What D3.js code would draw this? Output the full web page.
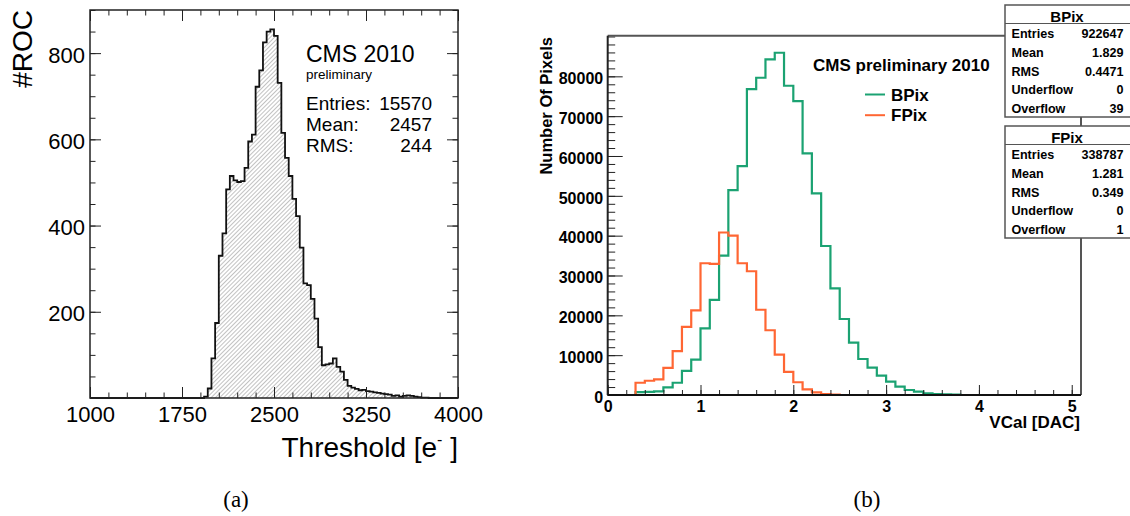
<!DOCTYPE html>
<html>
<head>
<meta charset="utf-8">
<script src="https://cdn.jsdelivr.net/npm/d3@7"></script>
<style>
  body { margin: 0; background: #fff; }
  svg { display: block; }
</style>
</head>
<body>
<div id="chart"></div>
<script>
// (a) threshold distribution, bins of 30 e- starting at 1930
const thrFirstBin = 1930;
const thrBinWidth = 30;
const thrCounts = [3, 22, 92, 174, 330, 382, 484, 515, 505, 501, 503, 534, 595, 611, 722, 760, 825, 850,
  855, 840, 731, 615, 557, 515, 462, 422, 349, 266, 262, 230, 184, 118, 76, 78, 80, 92, 72, 61, 42, 28,
  24, 21, 18, 19, 16, 15, 13, 12, 10, 9, 8, 5, 6, 3, 5, 6, 5, 3, 2, 1, 1];
const thrXTicks = [1000, 1750, 2500, 3250, 4000];
const thrYTicks = [200, 400, 600, 800];
const thrStats = [["Entries:", "15570"], ["Mean:", "2457"], ["RMS:", "244"]];

// (b) VCal distributions, bins of 0.1 starting at 0.3
const vcalBinWidth = 0.1;
const bpixFirstBin = 0.3;
const bpixCounts = [700, 800, 900, 1900, 3080, 6080, 8900, 16750, 23900, 35000, 51450, 57480, 76800, 79650,
  84260, 85920, 77640, 73800, 60670, 50630, 37400, 26780, 19080, 13130, 9040, 6860, 4850, 3350, 2090,
  1260, 840, 420, 250, 170, 80];
const fpixFirstBin = 0.3;
const fpixCounts = [3080, 3580, 3900, 6830, 11000, 17080, 21250, 33080, 32900, 40800, 40000, 33080, 31070,
  21400, 16250, 10160, 5830, 3200, 1420, 670, 250, 100];
const vcalXTicks = [0, 1, 2, 3, 4, 5];
const vcalYTicks = [0, 10000, 20000, 30000, 40000, 50000, 60000, 70000, 80000];
const bpixStats = [["Entries", "922647"], ["Mean", "1.829"], ["RMS", "0.4471"], ["Underflow", "0"], ["Overflow", "39"]];
const fpixStats = [["Entries", "338787"], ["Mean", "1.281"], ["RMS", "0.349"], ["Underflow", "0"], ["Overflow", "1"]];

const SANS = "'Liberation Sans', Arial, Helvetica, sans-serif";
const SERIF = "'Liberation Serif', 'Times New Roman', serif";

var svg = d3.select("#chart").append("svg")
  .attr("width", 1130).attr("height", 516)
  .style("background", "#fff");

// hatch pattern used by ROOT fill style
svg.append("defs").append("pattern")
  .attr("id", "hatch")
  .attr("patternUnits", "userSpaceOnUse")
  .attr("width", 3).attr("height", 3)
  .attr("patternTransform", "rotate(45)")
  .append("line")
  .attr("x1", 1.5).attr("y1", 0).attr("x2", 1.5).attr("y2", 3)
  .attr("stroke", "#a8a8a8").attr("stroke-width", 0.7);

// expand a partial bin list over the full axis range
function fullBins(lo, hi, width, first, counts) {
  var n = Math.round((hi - lo) / width);
  var off = Math.round((first - lo) / width);
  return d3.range(n).map(i => ({ x0: lo + i * width, x1: lo + (i + 1) * width, v: counts[i - off] || 0 }));
}

function stepPoints(bins) {
  var pts = bins.map(b => [b.x0, b.v]);
  var last = bins[bins.length - 1];
  pts.push([last.x1, last.v]);
  return pts;
}

// draw one axis with major + minor ticks, ticks pointing inside the frame
function drawAxis(g, axisFn, scale, major, minor, bigLen, smallLen, pad, fmt, fontSize, bold, dy) {
  g.append("g")
    .call(axisFn(scale).tickValues(minor).tickSize(-smallLen).tickFormat(""))
    .call(s => s.select(".domain").remove())
    .selectAll("line").attr("stroke", "#222").attr("stroke-width", 1);
  var a = g.append("g")
    .call(axisFn(scale).tickValues(major).tickSize(-bigLen).tickPadding(pad).tickFormat(fmt))
    .attr("font-family", SANS).attr("font-size", fontSize)
    .call(s => s.select(".domain").remove());
  a.selectAll("line").attr("stroke", "#222").attr("stroke-width", 1);
  a.selectAll("text").attr("fill", "#000").attr("font-weight", bold ? "bold" : "normal");
  if (dy) a.selectAll("text").attr("dy", dy);
}

createThresholdPlot();
createVcalPlot();

// captions
svg.append("text").attr("x", 236).attr("y", 507).attr("text-anchor", "middle")
  .attr("font-family", SERIF).attr("font-size", 23).text("(a)");
svg.append("text").attr("x", 867).attr("y", 507).attr("text-anchor", "middle")
  .attr("font-family", SERIF).attr("font-size", 23).text("(b)");

function createThresholdPlot() {
  var left = 90, right = 458, top = 10, bottom = 398;
  var x = d3.scaleLinear().domain([1000, 4000]).range([left, right]);
  var y = d3.scaleLinear().domain([0, 900]).range([bottom, top]);
  var g = svg.append("g");

  var bins = fullBins(1000, 4000, thrBinWidth, thrFirstBin, thrCounts);
  var pts = stepPoints(bins);

  g.append("path")
    .datum(pts)
    .attr("fill", "url(#hatch)")
    .attr("d", d3.area().curve(d3.curveStepAfter).x(d => x(d[0])).y0(y(0)).y1(d => y(d[1])));
  g.append("path")
    .datum(pts)
    .attr("fill", "none")
    .attr("stroke", "#111")
    .attr("stroke-width", 1.8)
    .attr("d", d3.line().curve(d3.curveStepAfter).x(d => x(d[0])).y(d => y(d[1])));

  var xMinor = d3.range(1000, 4001, 150);
  var yMinor = d3.range(0, 901, 50);
  drawAxis(g.append("g").attr("transform", `translate(0,${bottom})`), d3.axisBottom, x, thrXTicks, xMinor, 11, 5.5, 8, d3.format("d"), 22, false);
  drawAxis(g.append("g").attr("transform", `translate(0,${top})`), d3.axisTop, x, thrXTicks, xMinor, 11, 5.5, 0, () => "", 22, false);
  drawAxis(g.append("g").attr("transform", `translate(${left},0)`), d3.axisLeft, y, thrYTicks, yMinor, 11, 5.5, 5, d3.format("d"), 22, false, "0.41em");
  drawAxis(g.append("g").attr("transform", `translate(${right},0)`), d3.axisRight, y, thrYTicks, yMinor, 11, 5.5, 0, () => "", 22, false);

  g.append("rect")
    .attr("x", left).attr("y", top).attr("width", right - left).attr("height", bottom - top)
    .attr("fill", "none").attr("stroke", "#222").attr("stroke-width", 1.5);

  // axis titles
  g.append("text")
    .attr("transform", `translate(32,10) rotate(-90)`)
    .attr("text-anchor", "end")
    .attr("font-family", SANS).attr("font-size", 28)
    .text("#ROC");
  var t = g.append("text")
    .attr("x", right).attr("y", 457)
    .attr("text-anchor", "end")
    .attr("font-family", SANS).attr("font-size", 28);
  t.append("tspan").text("Threshold [e");
  t.append("tspan").attr("font-size", 16).attr("dy", -12).text("-");
  t.append("tspan").attr("dy", 12).text(" ]");

  // labels in the plot
  g.append("text").attr("x", 306).attr("y", 62)
    .attr("font-family", SANS).attr("font-size", 23).text("CMS 2010");
  g.append("text").attr("x", 306).attr("y", 78.5)
    .attr("font-family", SANS).attr("font-size", 13.5).text("preliminary");
  thrStats.forEach((s, i) => {
    g.append("text").attr("x", 306).attr("y", 110 + i * 21)
      .attr("font-family", SANS).attr("font-size", 19).text(s[0]);
    g.append("text").attr("x", 432).attr("y", 110 + i * 21).attr("text-anchor", "end")
      .attr("font-family", SANS).attr("font-size", 19).text(s[1]);
  });
}

function createVcalPlot() {
  var left = 607.7, right = 1081, top = 35.7, bottom = 395;
  var x = d3.scaleLinear().domain([0, 5.1]).range([left, right]);
  var y = d3.scaleLinear().domain([0, 90200]).range([bottom, top]);
  var g = svg.append("g");

  var series = [
    { name: "BPix", color: "#1ba272", bins: fullBins(0, 5.1, vcalBinWidth, bpixFirstBin, bpixCounts) },
    { name: "FPix", color: "#ff6633", bins: fullBins(0, 5.1, vcalBinWidth, fpixFirstBin, fpixCounts) }
  ];

  var line = d3.line().curve(d3.curveStepAfter).x(d => x(d[0])).y(d => y(d[1]));
  g.selectAll(".hist")
    .data(series)
    .enter().append("path")
    .attr("class", "hist")
    .attr("fill", "none")
    .attr("stroke", d => d.color)
    .attr("stroke-width", 2.2)
    .attr("d", d => line(stepPoints(d.bins)));

  var xMinor = d3.range(0, 51, 2).map(d => d / 10);
  var yMinor = d3.range(0, 90001, 2000);
  drawAxis(g.append("g").attr("transform", `translate(0,${bottom})`), d3.axisBottom, x, vcalXTicks, xMinor, 10, 5, 5.5, d3.format("d"), 16, true);
  drawAxis(g.append("g").attr("transform", `translate(${left},0)`), d3.axisLeft, y, vcalYTicks, yMinor, 15, 7.5, 4.5, d3.format("d"), 16, true, "0.45em");

  // frame: dark axes, gray top/right
  g.append("line").attr("x1", left).attr("x2", right).attr("y1", top).attr("y2", top)
    .attr("stroke", "#555").attr("stroke-width", 2);
  g.append("line").attr("x1", right).attr("x2", right).attr("y1", top).attr("y2", bottom)
    .attr("stroke", "#555").attr("stroke-width", 2);
  g.append("line").attr("x1", left).attr("x2", left).attr("y1", top).attr("y2", bottom)
    .attr("stroke", "#222").attr("stroke-width", 2);
  g.append("line").attr("x1", left).attr("x2", right).attr("y1", bottom).attr("y2", bottom)
    .attr("stroke", "#111").attr("stroke-width", 2);

  // axis titles
  g.append("text")
    .attr("transform", `translate(552,37) rotate(-90)`)
    .attr("text-anchor", "end")
    .attr("font-family", SANS).attr("font-size", 16.5).attr("font-weight", "bold")
    .text("Number Of Pixels");
  g.append("text")
    .attr("x", 1080).attr("y", 428).attr("text-anchor", "end")
    .attr("font-family", SANS).attr("font-size", 17).attr("font-weight", "bold")
    .text("VCal [DAC]");

  // title + legend
  g.append("text").attr("x", 813).attr("y", 71)
    .attr("font-family", SANS).attr("font-size", 17).attr("font-weight", "bold")
    .text("CMS preliminary 2010");
  series.forEach((s, i) => {
    var ly = 94.5 + i * 20.7;
    g.append("line").attr("x1", 865).attr("x2", 885).attr("y1", ly).attr("y2", ly)
      .attr("stroke", s.color).attr("stroke-width", 2);
    g.append("text").attr("x", 891).attr("y", ly + 6)
      .attr("font-family", SANS).attr("font-size", 17).attr("font-weight", "bold")
      .text(s.name);
  });

  // stat boxes
  statBox(g, 5, "BPix", bpixStats);
  statBox(g, 126, "FPix", fpixStats);
}

function statBox(g, top, title, stats) {
  var bx = 1005, bw = 130, h = 112;
  g.append("rect").attr("x", bx).attr("y", top).attr("width", bw).attr("height", h)
    .attr("fill", "#fff").attr("stroke", "#555").attr("stroke-width", 1.5);
  g.append("text").attr("x", 1067).attr("y", top + 16.5).attr("text-anchor", "middle")
    .attr("font-family", SANS).attr("font-size", 15).attr("font-weight", "bold").text(title);
  g.append("line").attr("x1", bx).attr("x2", bx + bw).attr("y1", top + 18.5).attr("y2", top + 18.5)
    .attr("stroke", "#555").attr("stroke-width", 1.2);
  stats.forEach((s, i) => {
    var ty = top + 33 + i * 18.8;
    g.append("text").attr("x", 1011.5).attr("y", ty)
      .attr("font-family", SANS).attr("font-size", 12.6).attr("font-weight", "bold").text(s[0]);
    g.append("text").attr("x", 1123.5).attr("y", ty).attr("text-anchor", "end")
      .attr("font-family", SANS).attr("font-size", 12.6).attr("font-weight", "bold").text(s[1]);
  });
}
</script>
</body>
</html>
